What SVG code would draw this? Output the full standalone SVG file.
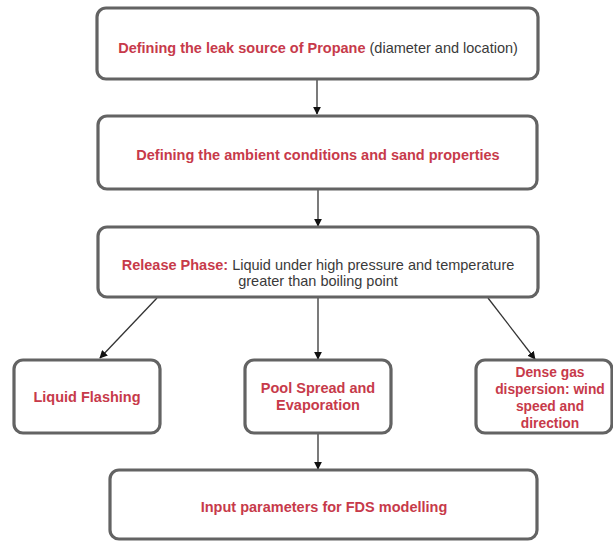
<svg xmlns="http://www.w3.org/2000/svg" width="613" height="542" viewBox="0 0 613 542">
<defs>
<marker id="arr" viewBox="0 0 10 10" refX="9" refY="5" markerWidth="8" markerHeight="8" markerUnits="userSpaceOnUse" orient="auto">
<path d="M0,0 L10,5 L0,10 z" fill="#111"/>
</marker>
<style>
.box{fill:#fff;stroke:#636363;stroke-width:3.2}
text{font-family:"Liberation Sans",Arial,sans-serif;font-size:14.5px;text-anchor:middle}
.r{fill:#c73a4a;font-weight:bold}
.k{fill:#3a3a3a}
.d{font-size:13.8px}
.edge{stroke:#333;stroke-width:1.3;fill:none;marker-end:url(#arr)}
</style>
</defs>
<rect width="613" height="542" fill="#fff"/>
<g id="connectors">
<line class="edge" x1="317" y1="80" x2="317" y2="114"/>
<line class="edge" x1="318" y1="190" x2="318" y2="226"/>
<line class="edge" x1="157" y1="298" x2="100" y2="358"/>
<line class="edge" x1="318" y1="298" x2="318" y2="359"/>
<line class="edge" x1="488" y1="298" x2="535" y2="359"/>
<line class="edge" x1="318" y1="434" x2="318" y2="469"/>
</g>
<g id="n1">
<rect class="box" x="97" y="8" width="441" height="71" rx="9"/>
<text x="318" y="53"><tspan class="r">Defining the leak source of Propane</tspan><tspan class="k"> (diameter and location)</tspan></text>
</g>
<g id="n2">
<rect class="box" x="98" y="116" width="439" height="73" rx="9"/>
<text class="r" x="318" y="160">Defining the ambient conditions and sand properties</text>
</g>
<g id="n3">
<rect class="box" x="98" y="227" width="440" height="70" rx="9"/>
<text x="318" y="270"><tspan class="r">Release Phase:</tspan><tspan class="k"> Liquid under high pressure and temperature</tspan></text>
<text class="k" x="318" y="286">greater than boiling point</text>
</g>
<g id="n4">
<rect class="box" x="14" y="360" width="146" height="73" rx="9"/>
<text class="r" x="87" y="402">Liquid Flashing</text>
</g>
<g id="n5">
<rect class="box" x="245" y="360" width="146" height="73" rx="9"/>
<text class="r" x="318" y="393">Pool Spread and</text>
<text class="r" x="318" y="410">Evaporation</text>
</g>
<g id="n6">
<rect class="box" x="476" y="360" width="136" height="73" rx="9"/>
<text class="r d" x="550" y="377">Dense gas</text>
<text class="r d" x="550" y="394">dispersion: wind</text>
<text class="r d" x="550" y="411">speed and</text>
<text class="r d" x="550" y="428">direction</text>
</g>
<g id="n7">
<rect class="box" x="110" y="470" width="427" height="69" rx="9"/>
<text class="r" x="324" y="512">Input parameters for FDS modelling</text>
</g>
</svg>
